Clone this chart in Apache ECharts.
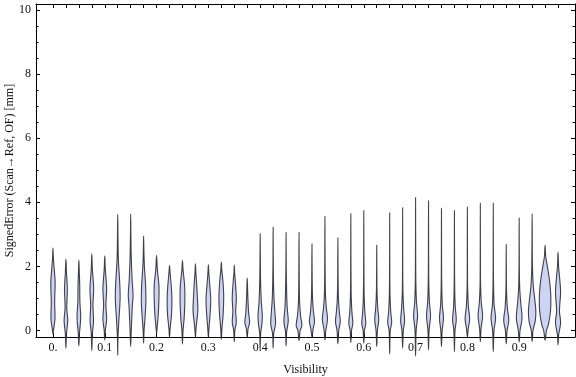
<!DOCTYPE html>
<html><head><meta charset="utf-8">
<script src="https://cdn.jsdelivr.net/npm/echarts@6/dist/echarts.min.js"></script>
<style>html,body{margin:0;padding:0;background:#fff}#c{width:576px;height:377px}</style>
</head><body><div id="c"></div>
<script>
// Visibility bins (x positions of the violins)
const visibility = [0,0.025,0.05,0.075,0.1,0.125,0.15,0.175,0.2,0.225,0.25,0.275,0.3,0.325,0.35,0.375,0.4,0.425,0.45,0.475,0.5,0.525,0.55,0.575,0.6,0.625,0.65,0.675,0.7,0.725,0.75,0.775,0.8,0.825,0.85,0.875,0.9,0.925,0.95,0.975];
const xTickValues = [0,0.1,0.2,0.3,0.4,0.5,0.6,0.7,0.8,0.9];
const xTickLabels = ['0.','0.1','0.2','0.3','0.4','0.5','0.6','0.7','0.8','0.9'];
const yTickValues = [0,2,4,6,8,10];
const yMinorValues = [0.5,1,1.5,2.5,3,3.5,4.5,5,5.5,6.5,7,7.5,8.5,9,9.5];
// Violin extents (mm)
const errMin = [-0.11,-0.55,-0.48,-0.63,-0.30,-0.77,-0.50,-0.40,-0.10,-0.20,-0.42,-0.20,-0.20,-0.28,-0.35,-0.20,-0.60,-0.55,-0.48,-0.32,-0.20,-0.30,-0.42,-0.38,-0.40,-0.50,-0.73,-0.55,-0.80,-0.60,-0.50,-0.66,-0.19,-0.35,-0.66,-0.42,-0.36,-0.34,-0.30,-0.45];
const errMax = [2.57,2.23,2.20,2.39,2.33,3.62,3.64,2.95,2.35,2.03,2.18,2.08,2.05,2.14,2.04,1.64,3.02,3.22,3.06,3.06,2.70,3.56,2.89,3.64,3.74,2.66,3.67,3.83,4.15,4.05,3.81,3.74,3.85,3.97,3.97,2.68,3.51,3.65,2.66,2.45];
// Density profile of each violin: [error, relative density]
const densityProfiles = [
 [[0.05,0.12],[0.35,0.35],[0.9,0.3],[1.5,0.38],[2.0,0.18],[2.3,0.06]],
 [[-0.1,0.1],[0.3,0.32],[0.7,0.15],[1.3,0.25],[1.8,0.1]],
 [[-0.1,0.1],[0.4,0.32],[0.9,0.18],[1.4,0.15],[1.9,0.06]],
 [[-0.1,0.1],[0.3,0.3],[0.8,0.2],[1.3,0.33],[1.9,0.1]],
 [[0.0,0.1],[0.35,0.33],[0.8,0.2],[1.3,0.33],[1.9,0.1]],
 [[-0.2,0.05],[0.3,0.2],[1.0,0.42],[1.5,0.35],[2.2,0.12],[3.0,0.04]],
 [[-0.1,0.08],[0.4,0.2],[0.8,0.3],[1.1,0.42],[1.6,0.25],[2.3,0.1],[3.0,0.04]],
 [[0.0,0.08],[0.4,0.25],[0.9,0.4],[1.4,0.35],[2.0,0.14],[2.5,0.05]],
 [[0.1,0.1],[0.5,0.3],[1.0,0.42],[1.4,0.42],[1.9,0.14]],
 [[0.05,0.1],[0.5,0.35],[1.0,0.42],[1.4,0.3],[1.8,0.1]],
 [[0.0,0.1],[0.4,0.3],[0.9,0.42],[1.4,0.38],[1.9,0.1]],
 [[0.1,0.12],[0.6,0.42],[1.0,0.35],[1.5,0.2],[1.8,0.08]],
 [[0.1,0.12],[0.5,0.3],[0.96,0.42],[1.4,0.25],[1.8,0.08]],
 [[0.05,0.1],[0.5,0.32],[1.05,0.42],[1.5,0.3],[1.9,0.08]],
 [[0.0,0.1],[0.25,0.35],[0.6,0.25],[1.0,0.36],[1.5,0.2],[1.8,0.06]],
 [[0.05,0.15],[0.25,0.42],[0.55,0.25],[1.0,0.12],[1.4,0.05]],
 [[-0.1,0.08],[0.2,0.3],[0.45,0.38],[0.9,0.2],[1.5,0.08],[2.3,0.03]],
 [[-0.1,0.1],[0.2,0.42],[0.6,0.3],[1.0,0.15],[1.6,0.06],[2.4,0.02]],
 [[-0.05,0.1],[0.3,0.38],[0.7,0.2],[1.2,0.1],[2.0,0.03]],
 [[0.0,0.2],[0.15,0.5],[0.45,0.28],[0.9,0.1],[1.6,0.04]],
 [[0.05,0.2],[0.27,0.45],[0.6,0.25],[1.0,0.1],[1.6,0.04]],
 [[0.0,0.15],[0.35,0.45],[0.7,0.25],[1.1,0.1],[1.8,0.04]],
 [[0.0,0.15],[0.27,0.42],[0.6,0.25],[1.0,0.1],[1.6,0.04]],
 [[0.0,0.12],[0.22,0.35],[0.55,0.2],[1.0,0.08],[1.8,0.03]],
 [[0.0,0.12],[0.22,0.35],[0.55,0.2],[1.0,0.08],[1.8,0.03]],
 [[0.0,0.12],[0.33,0.35],[0.7,0.18],[1.2,0.06],[1.9,0.02]],
 [[0.0,0.1],[0.25,0.35],[0.6,0.18],[1.1,0.06],[2.0,0.02]],
 [[0.0,0.12],[0.3,0.35],[0.7,0.18],[1.2,0.06],[2.0,0.02]],
 [[0.0,0.1],[0.45,0.35],[0.9,0.15],[1.5,0.05],[2.5,0.02]],
 [[0.0,0.1],[0.45,0.35],[0.9,0.15],[1.5,0.05],[2.5,0.02]],
 [[0.0,0.12],[0.38,0.35],[0.8,0.15],[1.4,0.05],[2.2,0.02]],
 [[0.0,0.1],[0.33,0.32],[0.75,0.14],[1.3,0.05],[2.2,0.02]],
 [[0.05,0.15],[0.36,0.4],[0.75,0.18],[1.3,0.05],[2.2,0.02]],
 [[0.05,0.12],[0.46,0.4],[0.85,0.18],[1.4,0.05],[2.2,0.02]],
 [[0.0,0.12],[0.38,0.4],[0.8,0.15],[1.4,0.05],[2.2,0.02]],
 [[0.0,0.15],[0.32,0.45],[0.7,0.2],[1.2,0.06],[1.9,0.02]],
 [[0.0,0.15],[0.38,0.5],[0.85,0.28],[1.3,0.1],[2.0,0.03]],
 [[0.0,0.15],[0.3,0.55],[0.6,0.65],[0.95,0.48],[1.4,0.2],[2.0,0.06]],
 [[0.0,0.25],[0.2,0.6],[0.6,0.95],[1.1,1.0],[1.6,0.75],[2.0,0.4],[2.3,0.12]],
 [[-0.15,0.1],[0.25,0.45],[0.6,0.25],[1.2,0.45],[1.7,0.25],[2.0,0.1]]
];

const FONT = 'Liberation Serif';
const HALF = 0.011; // half-width (in visibility units) for relative density 1
const X_MIN = -0.03275, X_MAX = 1.00775, Y_MIN = -0.203, Y_MAX = 10.19;

const chart = echarts.init(document.getElementById('c'), null, {renderer: 'canvas'});
const data = visibility.map((v, i) => [v, errMin[i], errMax[i]]);

function yAx(pos, custom, len, showLine, showLabel, extra) {
  return Object.assign({
    type: 'value', position: pos, min: Y_MIN, max: Y_MAX,
    axisLine: {show: showLine, onZero: false, lineStyle: {color: '#000', width: 1}},
    axisTick: {show: true, inside: true, length: len, customValues: custom, lineStyle: {color: '#000', width: 1}},
    axisLabel: {show: showLabel, customValues: yTickValues, margin: 5, fontFamily: FONT, fontSize: 12, color: '#111'},
    splitLine: {show: false}
  }, extra || {});
}
function xAx(pos, showLabel, extra) {
  return Object.assign({
    type: 'value', position: pos, min: X_MIN, max: X_MAX,
    axisLine: {show: true, onZero: false, lineStyle: {color: '#000', width: 1}},
    axisTick: {show: true, inside: true, length: 4, customValues: visibility, lineStyle: {color: '#000', width: 1}},
    axisLabel: {show: showLabel, customValues: xTickValues, margin: 5, fontFamily: FONT, fontSize: 12, color: '#111',
      formatter: v => xTickLabels[Math.round(v * 10)]},
    splitLine: {show: false}
  }, extra || {});
}

chart.setOption({
  animation: false,
  grid: {left: 36, right: 1, top: 4, bottom: 40, containLabel: false, outerBoundsMode: 'none'},
  xAxis: [
    xAx('bottom', true, {name: 'Visibility', nameLocation: 'middle', nameGap: 27, nameMoveOverlap: false,
      nameTextStyle: {fontFamily: FONT, fontSize: 12, color: '#111'}}),
    xAx('top', false)
  ],
  yAxis: [
    yAx('left', yTickValues, 4, true, true, {name: 'SignedError (Scan\u2192Ref, OF) [mm]', nameLocation: 'middle', nameGap: 20, nameMoveOverlap: false,
      nameTextStyle: {fontFamily: FONT, fontSize: 12, color: '#111'}}),
    yAx('left', yMinorValues, 2.5, false, false),
    yAx('right', yTickValues, 4, true, false),
    yAx('right', yMinorValues, 2.5, false, false)
  ],
  series: [{
    type: 'custom',
    xAxisIndex: 0, yAxisIndex: 0,
    clip: false,
    data: data,
    renderItem: function (params, api) {
      const i = params.dataIndex;
      const x = api.value(0), lo = api.value(1), hi = api.value(2);
      const prof = densityProfiles[i];
      const pts = [api.coord([x, lo])];
      prof.forEach(p => pts.push(api.coord([x - p[1] * HALF, p[0]])));
      pts.push(api.coord([x, hi]));
      prof.slice().reverse().forEach(p => pts.push(api.coord([x + p[1] * HALF, p[0]])));
      return {
        type: 'polygon',
        shape: {points: pts, smooth: 0.35},
        style: {fill: '#cdd3f3', stroke: 'rgba(35,35,45,0.85)', lineWidth: 1.1}
      };
    }
  }]
});
</script></body></html>
